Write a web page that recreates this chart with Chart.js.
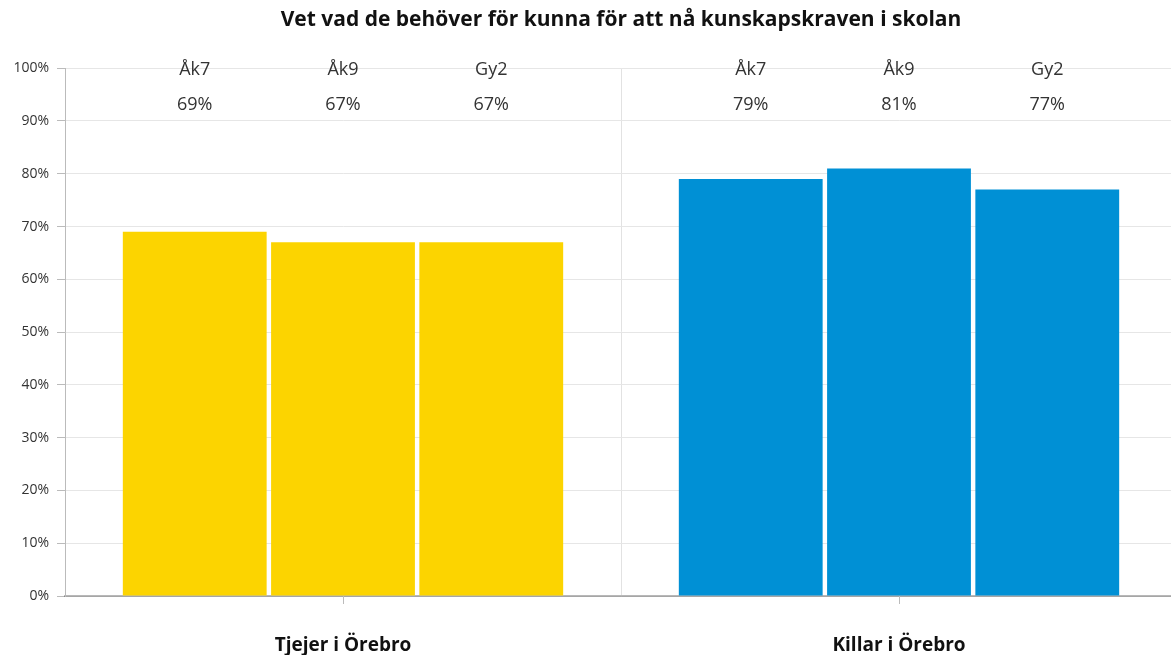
<!DOCTYPE html>
<html>
<head>
<meta charset="utf-8">
<script src="https://cdn.jsdelivr.net/npm/chart.js@4"></script>
<style>
  body { margin: 0; background: #fff; overflow: hidden; }
  #wrap { width: 1177px; height: 655px; }
</style>
</head>
<body>
<div id="wrap"><canvas id="graf"></canvas></div>
<script>
// data
const grupper = ['Tjejer i Örebro', 'Killar i Örebro'];
const arskurser = ['Åk7', 'Åk9', 'Gy2'];
const ak7 = [69, 79];
const ak9 = [67, 81];
const gy2 = [67, 77];
const yTicks = [0, 10, 20, 30, 40, 50, 60, 70, 80, 90, 100];

const gruppFarger = ['#fcd400', '#0090d5'];
const font = '"Open Sans", sans-serif';

// etiketter ovanför staplarna (årskurs + värde)
const topLabels = {
  id: 'topLabels',
  afterDatasetsDraw(chart) {
    const ctx = chart.ctx;
    const top = chart.chartArea.top;
    ctx.save();
    ctx.fillStyle = '#333';
    ctx.textAlign = 'center';
    ctx.textBaseline = 'middle';
    ctx.font = '18px ' + font;
    chart.data.datasets.forEach((ds, i) => {
      const meta = chart.getDatasetMeta(i);
      meta.data.forEach((bar, j) => {
        ctx.fillText(ds.label, bar.x, top + 2);
        ctx.fillText(ds.data[j] + '%', bar.x, top + 37);
      });
    });
    // små tickmarkeringar under x-axeln i mitten av varje grupp
    const xs = chart.scales.x;
    ctx.strokeStyle = '#bbb';
    ctx.lineWidth = 1;
    xs.ticks.forEach((t, k) => {
      const x = Math.round(xs.getPixelForTick(k)) + 0.5;
      ctx.beginPath();
      ctx.moveTo(x, chart.chartArea.bottom);
      ctx.lineTo(x, chart.chartArea.bottom + 8);
      ctx.stroke();
    });
    ctx.restore();
  }
};

new Chart(document.getElementById('graf'), {
  type: 'bar',
  data: {
    labels: grupper,
    datasets: [
      { label: arskurser[0], data: ak7, backgroundColor: gruppFarger },
      { label: arskurser[1], data: ak9, backgroundColor: gruppFarger },
      { label: arskurser[2], data: gy2, backgroundColor: gruppFarger }
    ]
  },
  options: {
    responsive: true,
    maintainAspectRatio: false,
    animation: false,
    datasets: {
      bar: { categoryPercentage: 0.8, barPercentage: 0.97 }
    },
    plugins: {
      legend: { display: false },
      tooltip: { enabled: false },
      title: {
        display: true,
        fullSize: false,
        text: 'Vet vad de behöver för kunna för att nå kunskapskraven i skolan',
        color: '#111',
        font: { family: font, size: 21, weight: 'bold' },
        padding: { top: 7, bottom: 36 }
      }
    },
    scales: {
      x: {
        z: 1,
        grid: { offset: true, color: '#e2e2e2', drawTicks: false },
        border: { color: 'rgba(0,0,0,0.28)', width: 2 },
        ticks: {
          color: '#111',
          font: { family: font, size: 19, weight: 'bold' },
          padding: 38
        },
        afterFit(scale) { scale.height = 59; }
      },
      y: {
        min: 0,
        max: 100,
        afterBuildTicks(scale) { scale.ticks = yTicks.map(v => ({ value: v })); },
        grid: { color: '#e6e6e6', tickLength: 8, tickColor: '#bbb' },
        border: { color: '#bbb', width: 1 },
        ticks: {
          color: '#333',
          font: { family: font, size: 14 },
          padding: 8,
          callback: v => v + '%'
        },
        afterFit(scale) { scale.width = 65; }
      }
    }
  },
  plugins: [topLabels]
});
</script>
</body>
</html>
